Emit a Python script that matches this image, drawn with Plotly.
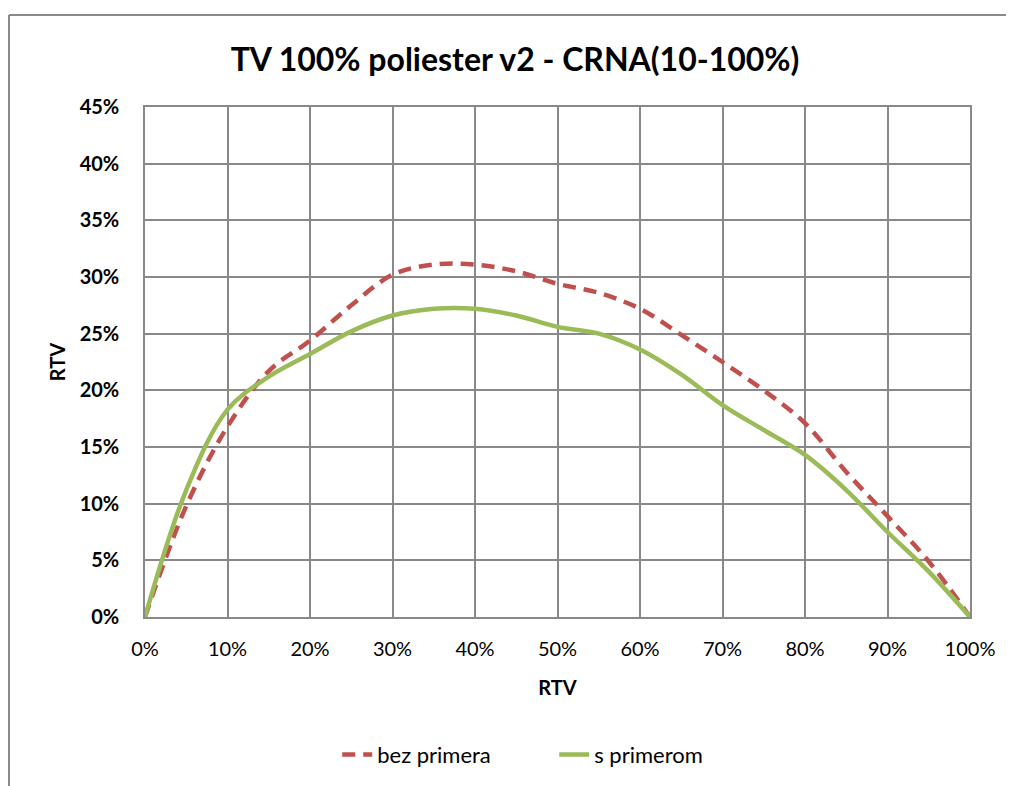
import plotly.graph_objects as go

# RTV on both axes, in percent
x_vals = [0, 5, 10, 15, 20, 25, 30, 35, 40, 45, 50, 55, 60, 65, 70, 75, 80, 85, 90, 95, 100]
bez_primera = [0, 9.8, 16.8, 21.7, 24.4, 27.5, 30.2, 31.1, 31.1, 30.5, 29.4, 28.6, 27.2,
               24.9, 22.5, 20.0, 17.1, 12.8, 8.9, 4.9, 0]
s_primerom = [0, 11.2, 18.3, 21.2, 23.2, 25.2, 26.6, 27.2, 27.2, 26.6, 25.6, 25.0, 23.6,
              21.4, 18.7, 16.5, 14.3, 11.2, 7.5, 4.0, 0]

FONT = "Lato"
GRID = "#898989"

fig = go.Figure()
fig.add_trace(go.Scatter(
    x=[v / 100 for v in x_vals], y=[v / 100 for v in bez_primera],
    mode="lines", name="bez primera", line_shape="spline",
    line=dict(color="#C0504D", width=4.5, dash="13px,8px"),
))
fig.add_trace(go.Scatter(
    x=[v / 100 for v in x_vals], y=[v / 100 for v in s_primerom],
    mode="lines", name="s primerom", line_shape="spline",
    line=dict(color="#9BBB59", width=4.5),
))

# page has an 8px body margin, so the plot area is placed 8px up/left
fig.update_layout(
    width=1014, height=786,
    margin=dict(l=137, r=52, t=99, b=177),
    paper_bgcolor="white", plot_bgcolor="white",
    font=dict(family=FONT, color="black"),
    title=dict(text="<b>TV 100% poliester v2 - CRNA(10-100%)</b>",
               x=0.5, xanchor="center", y=0.934, yanchor="middle",
               font=dict(size=32, family=FONT)),
    legend=dict(orientation="h", x=0.496, xanchor="center", y=-0.27, yanchor="middle",
                font=dict(size=22, family=FONT), entrywidth=172, entrywidthmode="pixels"),
    showlegend=True,
)
fig.update_xaxes(
    range=[0, 1], tickvals=[i / 10 for i in range(11)], tickformat=".0%",
    showgrid=True, gridcolor=GRID, gridwidth=1.5,
    showline=True, linecolor=GRID, linewidth=1.5, mirror=True,
    ticks="", tickfont=dict(size=20), zeroline=False, ticklabelstandoff=13,
    title=dict(text="RTV", font=dict(size=20, weight="bold"), standoff=22),
)
fig.update_yaxes(
    range=[0, 0.45], tickvals=[i * 0.05 for i in range(10)], tickformat=".0%",
    showgrid=True, gridcolor=GRID, gridwidth=1.5,
    showline=True, linecolor=GRID, linewidth=1.5, mirror=True,
    ticks="", tickfont=dict(size=20, weight="bold"), zeroline=False, ticklabelstandoff=20,
    title=dict(text="RTV", font=dict(size=20, weight="bold"), standoff=9),
)

# outer chart border (top and left visible)
fig.add_shape(type="line", xref="paper", yref="paper",
              x0=(1 - 137) / 825, x1=1.2, y0=1 + (99 - 7) / 510, y1=1 + (99 - 7) / 510,
              line=dict(color=GRID, width=2))
fig.add_shape(type="line", xref="paper", yref="paper",
              x0=(1 - 137) / 825, x1=(1 - 137) / 825, y0=1 + (99 - 7) / 510, y1=-0.5,
              line=dict(color=GRID, width=2))

fig.write_html("out.html")
